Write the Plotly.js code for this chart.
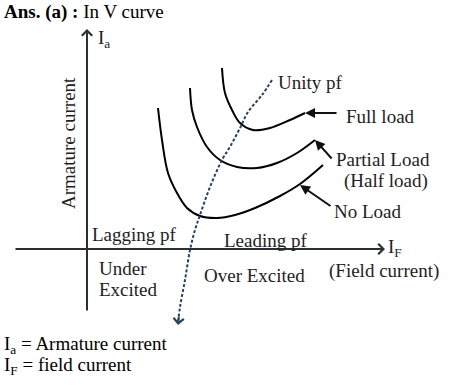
<!DOCTYPE html>
<html><head><meta charset="utf-8">
<script src="https://cdn.plot.ly/plotly-3.0.1.min.js"></script>
<style>html,body{margin:0;padding:0;background:#fff}</style>
</head><body><div id="chart" style="width:466px;height:385px"></div>
<script>
// Field current (x) and armature current (y) values, arbitrary units
const noLoadIf = [7.1, 7.5, 8.1, 9.0, 10.0, 11.3, 13.0, 14.8, 16.8, 19.3, 21.3, 23.6];
const noLoadIa = [14.1, 10.9, 7.6, 5.6, 4.1, 3.3, 3.1, 3.4, 4.1, 5.3, 6.5, 8.4];
const halfLoadIf = [10.3, 10.5, 11.0, 12.0, 13.3, 15.0, 17.0, 19.0, 21.0, 22.8];
const halfLoadIa = [16.1, 13.9, 12.2, 10.2, 8.9, 8.2, 8.1, 8.6, 9.6, 10.9];
const fullLoadIf = [13.5, 13.8, 14.5, 15.3, 16.6, 18.3, 20.3, 21.8];
const fullLoadIa = [18.1, 15.6, 13.9, 12.6, 11.9, 12.1, 12.9, 13.6];
const unityIf = [18.5, 17.5, 16.1, 15.3, 14.4, 13.5, 12.3, 11.3, 10.8, 10.3, 9.8, 9.3, 9.1];
const unityIa = [16.9, 15.4, 13.7, 12.1, 10.4, 8.9, 6.2, 3.4, 1.9, -0.1, -3.1, -5.8, -7.4];
const curveNames = ['No Load', 'Partial Load', 'Full load', 'Unity pf'];

const FONT = 'Liberation Serif, Times New Roman, serif';
const TXT = '#1e1e1e';
const AX = '#2a2f35';
const DASH = '#27425f';

const solid = (x, y, name) => ({x, y, name, mode: 'lines', type: 'scatter',
  line: {color: '#000', width: 2, shape: 'spline', smoothing: 1}, hoverinfo: 'skip'});

const traces = [
  solid(noLoadIf, noLoadIa, curveNames[0]),
  solid(halfLoadIf, halfLoadIa, curveNames[1]),
  solid(fullLoadIf, fullLoadIa, curveNames[2]),
  {x: unityIf, y: unityIa, name: curveNames[3], mode: 'lines', type: 'scatter',
   line: {color: DASH, width: 2, dash: '3px,2px', shape: 'spline', smoothing: 1}, hoverinfo: 'skip'}
];

const t = (text, x, y, opts) => Object.assign({text, x, y, xref: 'x', yref: 'y', showarrow: false,
  font: {family: FONT, size: 19, color: TXT}, xanchor: 'left', yanchor: 'middle'}, opts || {});
const arr = (x, y, ax, ay, opts) => Object.assign({x, y, ax, ay, xref: 'x', yref: 'y', axref: 'x', ayref: 'y',
  text: '', showarrow: true, arrowhead: 2, arrowsize: 1, arrowwidth: 2, arrowcolor: '#111'}, opts || {});

const last = a => a[a.length - 1];

const annotations = [
  // axes
  arr(29.8, 0, -7.3, 0, {arrowhead: 4, arrowsize: 1, arrowcolor: AX}),
  arr(0, 22.0, 0, -6.3, {arrowhead: 4, arrowsize: 1, arrowcolor: AX}),
  // unity pf arrowhead
  arr(last(unityIf), last(unityIa) - 0.2, 9.2, -6.6, {arrowhead: 4, arrowsize: 1, arrowcolor: DASH}),
  // label arrows
  arr(last(fullLoadIf), last(fullLoadIa), 25.1, 13.6, {arrowsize: 1}),
  arr(last(halfLoadIf), last(halfLoadIa), 24.6, 8.9, {arrowsize: 1}),
  arr(21.3, 6.4, 24.5, 4.2, {arrowsize: 1}),
  // texts
  {text: '<b>Ans. (a) :</b> In V curve', xref: 'paper', yref: 'paper', x: 0.005, y: 0.968,
   xanchor: 'left', yanchor: 'middle', showarrow: false, font: {family: FONT, size: 19, color: '#000'}},
  t('I<sub>a</sub>', 0.9, 21.0),
  t('Armature current', -1.9, 10.6, {textangle: -90, xanchor: 'center'}),
  t('Unity pf', 18.9, 16.7),
  t('Full load', 25.7, 13.3),
  t('Partial Load', 24.7, 8.95),
  t('(Half load)', 25.5, 6.85),
  t('No Load', 24.5, 3.8),
  t('Lagging pf', 0.3, 1.5),
  t('Leading pf', 13.5, 0.9),
  t('Under', 1.0, -1.9),
  t('Excited', 1.0, -4.0),
  t('Over Excited', 11.5, -2.6),
  t('I<sub>F</sub>', 29.9, 0.15),
  t('(Field current)', 24.0, -2.15),
  t('I<sub>a</sub> = Armature current', -8.5, -9.6, {font: {family: FONT, size: 19, color: '#000'}}),
  t('I<sub>F</sub> = field current', -8.5, -11.7, {font: {family: FONT, size: 19, color: '#000'}})
];

const hidden = {showgrid: false, zeroline: false, showticklabels: false, ticks: '', showline: false, fixedrange: true};
const layout = {
  width: 466, height: 385, margin: {l: 0, r: 0, t: 0, b: 0},
  paper_bgcolor: '#fff', plot_bgcolor: '#fff', showlegend: false,
  xaxis: Object.assign({range: [-8.7, 37.9]}, hidden),
  yaxis: Object.assign({range: [-13.6, 24.9]}, hidden),
  annotations
};
Plotly.newPlot('chart', traces, layout, {staticPlot: true, displayModeBar: false});
</script></body></html>
